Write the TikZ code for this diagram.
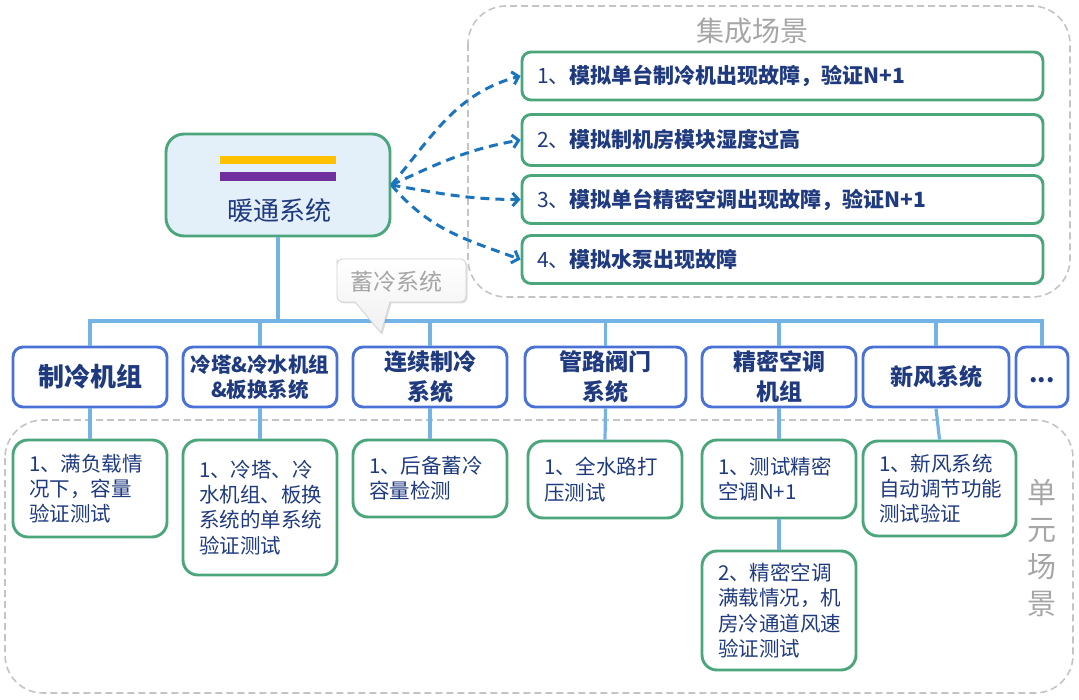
\documentclass[tikz,border=0pt]{standalone}
\usepackage{fontspec}
\setmainfont{Noto Sans CJK SC}
\usetikzlibrary{arrows.meta,shadows}
\definecolor{dblue}{HTML}{1F3A7F}
\definecolor{ublue}{HTML}{4A72D6}
\definecolor{tgreen}{HTML}{4BA67C}
\definecolor{lblue}{HTML}{74B3E6}
\definecolor{ablue}{HTML}{1B74BE}
\definecolor{dgray}{HTML}{C4C4C4}
\definecolor{lgray}{HTML}{A6A6A6}
\definecolor{mainfill}{HTML}{E3EFF9}
\definecolor{barY}{HTML}{FFC000}
\definecolor{barP}{HTML}{7030A0}
\begin{document}
\begin{tikzpicture}[x=1pt,y=-1pt,
  gbox/.style={draw=dgray, line width=1.6pt, dash pattern=on 7pt off 4pt, rounded corners=38pt},
  glabel/.style={text=lgray, font=\fontsize{28}{37}\selectfont, inner sep=0pt, align=center},
  mainbox/.style={draw=tgreen, fill=mainfill, line width=2.9pt, rounded corners=18pt, minimum width=224pt, minimum height=102pt},
  scenbox/.style={draw=tgreen, fill=white, line width=2.9pt, rounded corners=9pt, minimum height=48pt, text width=491pt, inner xsep=15pt, align=left, text=dblue, font=\fontsize{21}{25}\selectfont},
  unitbox/.style={draw=ublue, fill=white, line width=2.9pt, rounded corners=10pt, minimum height=60pt, inner sep=1pt, align=center, text=dblue, font=\bfseries\fontsize{23}{30}\selectfont},
  testbox/.style={draw=tgreen, fill=white, line width=2.9pt, rounded corners=15pt, text width=122pt, inner xsep=16pt, inner ysep=2pt, align=left, text=dblue, font=\fontsize{20.5}{25.3}\selectfont},
  link/.style={draw=lblue, line width=3.2pt},
  darrow/.style={draw=ablue, line width=3pt, dash pattern=on 9pt off 6pt, -{Straight Barb[length=6pt,width=13pt]}},
]
\useasboundingbox (0,0) rectangle (1079,700);
% dashed scenario frames
\draw[gbox] (468,6) rectangle (1070,297);
\draw[gbox] (5,420) rectangle (1073,693);
\node[glabel] (jc) at (752,31) {集成场景};
\node[glabel, font=\fontsize{29}{37}\selectfont] (dy) at (1042,548) {单\\元\\场\\景};
% main node
\node[mainbox] (main) at (278,185) {};
\fill[barY] (220,156) rectangle (336,164);
\fill[barP] (220,172) rectangle (336,181);
\node[text=dblue, font=\fontsize{26}{30}\selectfont, inner sep=0pt] (mainlbl) at (279,211) {暖通系统};
% integrated scenarios
\node[scenbox] (s1) at (782.5,76) {1、\textbf{模拟单台制冷机出现故障，验证N+1}};
\node[scenbox, minimum height=51pt] (s2) at (782.5,140) {2、\textbf{模拟制机房模块湿度过高}};
\node[scenbox] (s3) at (782.5,199.5) {3、\textbf{模拟单台精密空调出现故障，验证N+1}};
\node[scenbox] (s4) at (782.5,259.5) {4、\textbf{模拟水泵出现故障}};
\draw[darrow] (main.east) to[out=50, in=195] (s1.west);
\draw[darrow] (main.east) to[out=25, in=190] (s2.west);
\draw[darrow] (main.east) to[out=-10, in=180] (s3.west);
\draw[darrow] (main.east) to[out=-50, in=160] (s4.west);
% unit boxes
\node[unitbox, minimum width=154pt, font=\bfseries\fontsize{26}{30}\selectfont] (u1) at (90,377) {制冷机组};
\node[unitbox, minimum width=154pt, font=\bfseries\fontsize{20.5}{25}\selectfont] (u2) at (260,377) {冷塔\&冷水机组\\\&板换系统};
\node[unitbox, minimum width=154pt] (u3) at (430,377) {连续制冷\\系统};
\node[unitbox, minimum width=161pt] (u4) at (605.5,377) {管路阀门\\系统};
\node[unitbox, minimum width=154pt] (u5) at (779,377) {精密空调\\机组};
\node[unitbox, minimum width=146pt] (u6) at (936,377) {新风系统};
\node[unitbox, minimum width=52pt, font=\bfseries\fontsize{24}{28}\selectfont] (u7) at (1042,377) {...\strut};
% test boxes
\node[testbox, minimum height=97pt] (tA) at (90,488.5) {1、满负载情\\况下，容量\\验证测试};
\node[testbox, minimum height=135pt] (tB) at (260,507.5) {1、冷塔、冷\\水机组、板换\\系统的单系统\\验证测试};
\node[testbox, minimum height=77pt] (tC) at (430,478.5) {1、后备蓄冷\\容量检测};
\node[testbox, minimum height=77pt] (tD) at (605,479.5) {1、全水路打\\压测试};
\node[testbox, minimum height=78pt] (tE) at (779,479) {1、测试精密\\空调N+1};
\node[testbox, minimum height=119pt] (tF) at (779,610.5) {2、精密空调\\满载情况，机\\房冷通道风速\\验证测试};
\node[testbox, minimum height=95pt, text width=121pt] (tG) at (939.5,488.5) {1、新风系统\\自动调节功能\\测试验证};
% connectors
\coordinate (bus0) at (278,321);
\draw[link] (main.south) -- (bus0);
\draw[link] (u1.north) -- (u1.north |- bus0) -- (u7.north |- bus0) -- (u7.north);
\foreach \u in {u2,u3,u4,u5,u6} \draw[link] (\u.north |- bus0) -- (\u.north);
\draw[link] (u1.south) -- (tA.north);
\draw[link] (u2.south) -- (tB.north);
\draw[link] (u3.south) -- (tC.north);
\draw[link] (u4.south) -- (tD.north);
\draw[link] (u5.south) -- (tE.north);
\draw[link] (tE.south) -- (tF.north);
\draw[link] (u6.south) -- (tG.north);
% callout
\path[draw=gray!35, line width=0.8pt, top color=white, bottom color=gray!12,
      drop shadow={opacity=0.25, shadow xshift=1.5pt, shadow yshift=-1.5pt}]
  (337,265) [rounded corners=6pt] -- (337,259) -- (466,259) -- (466,302)
  [sharp corners] -- (390,302) -- (381,333) -- (355,302)
  [rounded corners=6pt] -- (337,302) -- cycle;
\node[text=lgray, font=\fontsize{23}{28}\selectfont, inner sep=0pt] (cb) at (396,282) {蓄冷系统};
\end{tikzpicture}
\end{document}
